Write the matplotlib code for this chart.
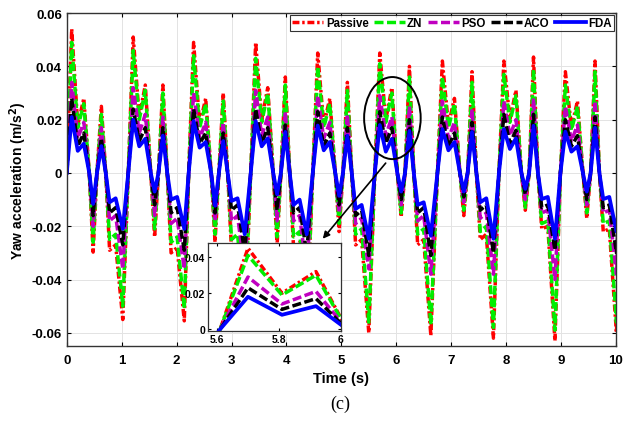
import numpy as np
import matplotlib
matplotlib.use('Agg')
import matplotlib.pyplot as plt
from matplotlib.patches import Ellipse

# ---------------- data ----------------
# time of the main positive peak in each cycle (s)
peak_times = [0.09, 1.21, 2.31, 3.44, 4.57, 5.70, 6.84, 7.96, 9.08]
# time offsets (s) of the features within a cycle, relative to the main peak
feature_names = ["main", "dip", "sec", "trough1", "third", "shoulderA", "shoulderB", "big_trough"]
feature_offsets = [0.0, 0.11, 0.22, 0.39, 0.54, 0.69, 0.80, 0.93]
# zero crossings within a cycle (offsets, s)
zero_offsets = [-0.09, 0.32, 0.46, 0.62]
end_zero_offset = 1.03

# per-cycle feature values (m/s^2): rows = cycles, columns = features
passive = [
    [0.054, 0.018, 0.028, -0.0297, 0.025, -0.029, -0.027, -0.055],
    [0.051, 0.021, 0.033, -0.024, 0.033, -0.030, -0.028, -0.0555],
    [0.049, 0.018, 0.028, -0.026, 0.030, -0.029, -0.027, -0.057],
    [0.049, 0.020, 0.032, -0.027, 0.036, -0.028, -0.026, -0.058],
    [0.045, 0.018, 0.028, -0.022, 0.034, -0.027, -0.025, -0.060],
    [0.045, 0.020, 0.032, -0.0165, 0.040, -0.027, -0.025, -0.061],
    [0.042, 0.018, 0.028, -0.016, 0.038, -0.025, -0.023, -0.062],
    [0.042, 0.020, 0.031, -0.014, 0.0435, -0.021, -0.020, -0.063],
    [0.038, 0.017, 0.027, -0.017, 0.042, -0.022, -0.021, -0.060],
]
zn = [
    [0.049, 0.017, 0.026, -0.026, 0.022, -0.025, -0.023, -0.050],
    [0.046, 0.020, 0.031, -0.021, 0.030, -0.026, -0.024, -0.051],
    [0.044, 0.017, 0.026, -0.023, 0.027, -0.025, -0.023, -0.052],
    [0.043, 0.019, 0.030, -0.024, 0.033, -0.024, -0.022, -0.053],
    [0.040, 0.017, 0.026, -0.019, 0.031, -0.023, -0.021, -0.056],
    [0.041, 0.019, 0.030, -0.015, 0.036, -0.023, -0.021, -0.057],
    [0.036, 0.017, 0.026, -0.014, 0.034, -0.022, -0.020, -0.058],
    [0.037, 0.019, 0.029, -0.013, 0.039, -0.019, -0.018, -0.059],
    [0.033, 0.016, 0.025, -0.015, 0.038, -0.019, -0.018, -0.056],
]
pso = [
    [0.034, 0.013, 0.019, -0.020, 0.017, -0.018, -0.016, -0.036],
    [0.032, 0.015, 0.022, -0.016, 0.021, -0.019, -0.017, -0.036],
    [0.030, 0.013, 0.019, -0.018, 0.019, -0.018, -0.016, -0.037],
    [0.031, 0.014, 0.021, -0.018, 0.023, -0.018, -0.016, -0.037],
    [0.029, 0.013, 0.019, -0.015, 0.022, -0.019, -0.017, -0.036],
    [0.029, 0.014, 0.021, -0.012, 0.025, -0.018, -0.016, -0.038],
    [0.027, 0.013, 0.019, -0.011, 0.024, -0.017, -0.015, -0.038],
    [0.027, 0.014, 0.020, -0.010, 0.028, -0.015, -0.014, -0.040],
    [0.025, 0.012, 0.018, -0.012, 0.027, -0.015, -0.014, -0.038],
]
aco = [
    [0.028, 0.010, 0.015, -0.016, 0.013, -0.015, -0.013, -0.027],
    [0.024, 0.012, 0.017, -0.012, 0.017, -0.015, -0.013, -0.029],
    [0.024, 0.011, 0.015, -0.015, 0.015, -0.014, -0.012, -0.030],
    [0.024, 0.011, 0.017, -0.014, 0.018, -0.015, -0.013, -0.030],
    [0.023, 0.010, 0.015, -0.012, 0.017, -0.016, -0.014, -0.031],
    [0.023, 0.011, 0.017, -0.010, 0.020, -0.015, -0.013, -0.031],
    [0.021, 0.010, 0.015, -0.009, 0.019, -0.014, -0.012, -0.030],
    [0.022, 0.011, 0.016, -0.008, 0.022, -0.013, -0.012, -0.029],
    [0.020, 0.010, 0.014, -0.010, 0.021, -0.013, -0.012, -0.030],
]
fda = [
    [0.021, 0.0083, 0.011, -0.0116, 0.0101, -0.011, -0.0095, -0.021],
    [0.020, 0.010, 0.0128, -0.007, 0.014, -0.010, -0.009, -0.021],
    [0.0195, 0.0095, 0.0116, -0.0123, 0.012, -0.0105, -0.0095, -0.023],
    [0.0195, 0.010, 0.013, -0.008, 0.0154, -0.012, -0.010, -0.023],
    [0.0178, 0.0085, 0.0116, -0.0086, 0.014, -0.0135, -0.012, -0.0247],
    [0.018, 0.008, 0.0128, -0.007, 0.0158, -0.012, -0.011, -0.0236],
    [0.0165, 0.0085, 0.0116, -0.007, 0.0154, -0.011, -0.0095, -0.0247],
    [0.0165, 0.009, 0.013, -0.006, 0.0177, -0.0098, -0.009, -0.0247],
    [0.0155, 0.008, 0.010, -0.007, 0.017, -0.0098, -0.009, -0.022],
]

series_labels = ["Passive", "ZN", "PSO", "ACO", "FDA"]
series_data = [passive, zn, pso, aco, fda]


def assemble(table):
    """Put the read feature values and zero crossings in time order."""
    pts = []
    for p, row in zip(peak_times, table):
        for off in zero_offsets:
            pts.append((p + off, 0.0))
        for off, v in zip(feature_offsets, row):
            pts.append((p + off, v))
    pts.append((peak_times[-1] + end_zero_offset, 0.0))
    pts.sort()
    t = np.array([q[0] for q in pts])
    y = np.array([q[1] for q in pts])
    return t, y


# ---------------- styles ----------------
styles = [
    dict(color="#ff0000", lw=2.5, ls=(0, (2.0, 0.8, 0.7, 0.8))),
    dict(color="#00ee00", lw=2.5, ls=(0, (2.6, 1.0))),
    dict(color="#c000c0", lw=2.5, ls=(0, (2.6, 1.0))),
    dict(color="#000000", lw=2.5, ls=(0, (2.6, 1.0))),
    dict(color="#0000ff", lw=2.7, ls="-"),
]

plt.rcParams["font.family"] = ["Liberation Sans", "DejaVu Sans"]
plt.rcParams["font.weight"] = "bold"
plt.rcParams["mathtext.default"] = "bf"

fig = plt.figure(figsize=(6.24, 4.27), dpi=100)
ax = fig.add_axes([0.107, 0.187, 0.880, 0.780])

curves = [assemble(tab) for tab in series_data]
for (t, y), lab, st in zip(curves, series_labels, styles):
    ax.plot(t, y, label=lab, color=st["color"], lw=st["lw"], linestyle=st["ls"],
            solid_joinstyle="round", dash_joinstyle="round", dash_capstyle="butt")

ax.set_xlim(0, 10)
ax.set_ylim(-0.065, 0.06)
ax.set_xticks(range(0, 11))
ax.set_yticks([-0.06, -0.04, -0.02, 0, 0.02, 0.04, 0.06])
ax.set_yticklabels(["-0.06", "-0.04", "-0.02", "0", "0.02", "0.04", "0.06"])
ax.tick_params(direction="in", top=True, right=True, length=3, labelsize=9.5, width=0.8)
ax.tick_params(axis="x", pad=6)
for lab in ax.get_xticklabels() + ax.get_yticklabels():
    lab.set_fontweight("bold")
ax.grid(True, color="#e3e3e3", lw=0.7)
ax.set_axisbelow(True)
for sp in ax.spines.values():
    sp.set_linewidth(1.0)
    sp.set_color("#333333")
ax.set_xlabel("Time (s)", fontsize=10.5, fontweight="bold", labelpad=3)
ax.set_ylabel(r"Yaw acceleration (m/s$^2$)", fontsize=10, fontweight="bold", labelpad=2)

leg = ax.legend(loc="upper right", ncol=5, frameon=True, fancybox=False,
                handlelength=2.7, handletextpad=0.2, columnspacing=0.45,
                borderpad=0.2, borderaxespad=0.15, prop={"weight": "bold", "size": 8.3})
leg.get_frame().set_edgecolor("black")
leg.get_frame().set_linewidth(0.8)
leg.set_zorder(10)

# ellipse marking the zoomed region and arrow to the inset
ell = Ellipse((5.93, 0.0206), 1.03, 0.0308, fill=False, edgecolor="black", lw=1.4, zorder=6)
ax.add_patch(ell)
ax.annotate("", xy=(4.63, -0.0255), xytext=(5.84, 0.0045),
            arrowprops=dict(arrowstyle="-|>", color="black", lw=1.2, mutation_scale=10),
            zorder=7)

# inset
axi = fig.add_axes([0.333, 0.2225, 0.213, 0.2065])
for (t, y), st in zip(curves, styles):
    axi.plot(t, y, color=st["color"], lw=st["lw"], linestyle=st["ls"],
             solid_joinstyle="round", dash_joinstyle="round", dash_capstyle="butt")
axi.set_xlim(5.57, 6.0)
axi.set_ylim(-0.001, 0.048)
axi.set_xticks([5.6, 5.8, 6.0])
axi.set_xticklabels(["5.6", "5.8", "6"])
axi.set_yticks([0, 0.02, 0.04])
axi.set_yticklabels(["0", "0.02", "0.04"])
axi.tick_params(direction="in", top=True, right=True, length=2.5, labelsize=7.5, pad=2)
for lab in axi.get_xticklabels() + axi.get_yticklabels():
    lab.set_fontweight("bold")
for sp in axi.spines.values():
    sp.set_linewidth(0.9)
    sp.set_color("#333333")
axi.set_zorder(8)

fig.text(0.545, 0.052, "(c)", family="Liberation Serif", fontsize=13,
         fontweight="normal", ha="center", va="center")

fig.savefig("out.png", dpi=100)
